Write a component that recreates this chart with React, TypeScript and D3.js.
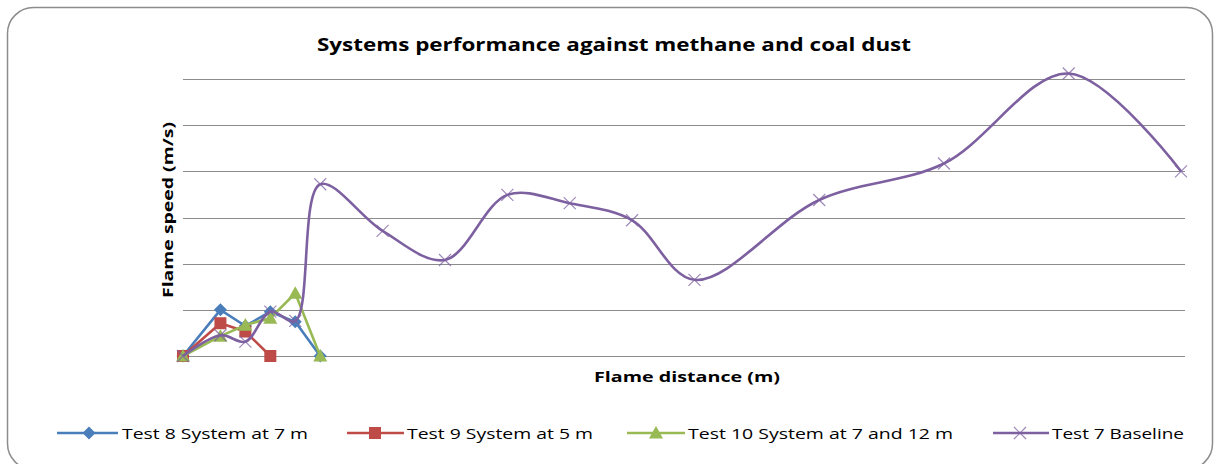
import React from "react";
import * as d3 from "d3";

const distance8 = [0, 3, 5, 7, 9, 11];
const speed8 = [0, 100, 65, 96, 74, 0];
const distance9 = [0, 3, 5, 7];
const speed9 = [0, 71, 53, 0];
const distance10 = [0, 3, 5, 7, 9, 11];
const speed10 = [0, 43, 67, 82, 136, 0];
const distance7 = [0, 3, 5, 7, 9, 11, 16, 21, 26, 31, 36, 41, 51, 61, 71, 80];
const speed7 = [0, 45, 31, 96, 76, 372, 271, 208, 349, 331, 294, 165, 338, 417, 612, 400];
const yTicks = [0, 100, 200, 300, 400, 500, 600];
const seriesNames = ["Test 8 System at 7 m", "Test 9 System at 5 m", "Test 10 System  at 7 and 12 m", "Test 7 Baseline"];

const W = 1216, H = 464;
const x = d3.scaleLinear().domain([0, 80]).range([183, 1181]);
const y = d3.scaleLinear().domain([0, 600]).range([356, 79]);

type S = { name: string; xs: number[]; ys: number[]; color: string; marker: string; smooth: boolean };
const series: S[] = [
  { name: seriesNames[0], xs: distance8, ys: speed8, color: "#4a7ebb", marker: "diamond", smooth: false },
  { name: seriesNames[1], xs: distance9, ys: speed9, color: "#be4b48", marker: "square", smooth: false },
  { name: seriesNames[2], xs: distance10, ys: speed10, color: "#98b954", marker: "triangle", smooth: false },
  { name: seriesNames[3], xs: distance7, ys: speed7, color: "#7d60a0", marker: "x", smooth: true },
];

function Marker({ type, cx, cy, color }: { type: string; cx: number; cy: number; color: string }) {
  if (type === "diamond") {
    const s = 6.5;
    return <path d={`M${cx},${cy - s}L${cx + s},${cy}L${cx},${cy + s}L${cx - s},${cy}Z`} fill={color} />;
  }
  if (type === "square") {
    const s = 6;
    return <rect x={cx - s} y={cy - s} width={2 * s} height={2 * s} fill={color} />;
  }
  if (type === "triangle") {
    const s = 7;
    return <path d={`M${cx},${cy - s}L${cx + s},${cy + s * 0.8}L${cx - s},${cy + s * 0.8}Z`} fill={color} />;
  }
  const s = 6;
  return (
    <path d={`M${cx - s},${cy - s}L${cx + s},${cy + s}M${cx - s},${cy + s}L${cx + s},${cy - s}`} stroke={color} strokeOpacity={0.75} strokeWidth={1.2} fill="none" />
  );
}

const legendItems = [
  { lx1: 57, lx2: 118, mx: 89, tx: 122, tw: 186 },
  { lx1: 347, lx2: 404, mx: 375, tx: 407, tw: 186 },
  { lx1: 627, lx2: 685, mx: 656, tx: 688, tw: 265 },
  { lx1: 993, lx2: 1049, mx: 1020, tx: 1052, tw: 132 },
];

export default function App() {
  const font = "'Open Sans', 'Liberation Sans', sans-serif";
  return (
    <svg width={W} height={H} style={{ position: "absolute", left: 0, top: 0 }} fontFamily={font}>
      <rect x={0} y={0} width={W} height={H} fill="#fff" />
      <rect x={7.5} y={7.5} width={1205} height={462} rx={26} ry={26} fill="#fff" stroke="#8c8c8c" strokeWidth={1.5} />
      <text x={614} y={51} textAnchor="middle" fontSize={17} fontWeight="bold" textLength={594} lengthAdjust="spacingAndGlyphs" fill="#000">
        Systems performance against methane and coal dust
      </text>
      {yTicks.map((t) => (
        <line key={t} x1={183} x2={1185} y1={Math.round(y(t)) + 0.5} y2={Math.round(y(t)) + 0.5} stroke="#8c8c8c" strokeWidth={1.2} />
      ))}
      <text transform="translate(173,210) rotate(-90)" textAnchor="middle" fontSize={14} fontWeight="bold" textLength={176} lengthAdjust="spacingAndGlyphs">
        Flame speed (m/s)
      </text>
      <text x={687} y={382} textAnchor="middle" fontSize={14} fontWeight="bold" textLength={186} lengthAdjust="spacingAndGlyphs">
        Flame distance (m)
      </text>
      {series.map((s) => {
        const pts: [number, number][] = s.xs.map((d, i) => [x(d), y(s.ys[i])]);
        const gen = d3.line().curve(s.smooth ? d3.curveCatmullRom.alpha(0.5) : d3.curveLinear);
        return (
          <g key={s.name}>
            <path d={gen(pts) || ""} fill="none" stroke={s.color} strokeWidth={2.6} strokeLinejoin="round" />
            {pts.map((p, i) => (
              <Marker key={i} type={s.marker} cx={p[0]} cy={p[1]} color={s.color} />
            ))}
          </g>
        );
      })}
      {series.map((s, i) => {
        const l = legendItems[i];
        return (
          <g key={"lg" + i}>
            <line x1={l.lx1} x2={l.lx2} y1={433} y2={433} stroke={s.color} strokeWidth={2.6} />
            <Marker type={s.marker} cx={l.mx} cy={433} color={s.color} />
            <text x={l.tx} y={438.5} fontSize={15} textLength={l.tw} lengthAdjust="spacingAndGlyphs" fill="#000">
              {s.name}
            </text>
          </g>
        );
      })}
    </svg>
  );
}
